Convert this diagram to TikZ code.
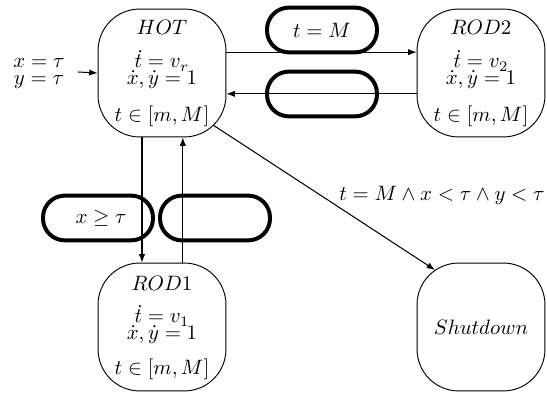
\documentclass[tikz,border=0pt]{standalone}
\usetikzlibrary{arrows.meta}
\begin{document}
\begin{tikzpicture}[x=0.48pt,y=-0.48pt,
 state/.style={draw, line width=0.45pt, rounded corners=20pt, minimum width=61.4pt, minimum height=61.4pt, inner sep=0pt},
 guard/.style={draw, line width=1.9pt, rounded corners=10.5pt, minimum width=52.8pt, minimum height=21.5pt, inner sep=0pt},
 txt/.style={inner sep=0pt},
 row/.style={inner sep=0pt, anchor=base},
 arr/.style={-{Latex[length=4pt,width=3pt]}, line width=0.5pt}]
\useasboundingbox (0,0) rectangle (547,394);
% states
\node[state] (HOT) at (162,73) {};
\node[state] (ROD2) at (481,73) {};
\node[state] (ROD1) at (162,327) {};
\node[state] (SD) at (481,327) {};
% state texts
\node[txt] (hotn) at (162,27) {$HOT$};
\node[row] (hota) at (162,68) {$\dot{t}=v_r$};
\node[row] (hotb) at (162,85) {$\dot{x},\dot{y}=1$};
\node[txt] (hotc) at (162,116) {$t\in[m,M]$};
\node[txt] (r2n) at (481,27) {$ROD2$};
\node[row] (r2a) at (481,68) {$\dot{t}=v_2$};
\node[row] (r2b) at (481,85) {$\dot{x},\dot{y}=1$};
\node[txt] (r2c) at (481,116) {$t\in[m,M]$};
\node[txt] (r1n) at (162,283) {$ROD1$};
\node[row] (r1a) at (162,323) {$\dot{t}=v_1$};
\node[row] (r1b) at (162,340) {$\dot{x},\dot{y}=1$};
\node[txt] (r1c) at (162,369) {$t\in[m,M]$};
\node[txt] (sdn) at (481,327) {$Shutdown$};
% guards
\node[guard] (g1) at (322,30) {$t=M$};
\node[guard] (g2) at (322,94) {};
\node[guard] (g3) at (98,218) {\hspace*{3pt}$x\geq\tau$};
\node[guard] (g4) at (215,218) {};
% initial
\node[txt] (ia) at (39,63) {$x=\tau$};
\node[txt] (ib) at (39,82) {$y=\tau$};
\coordinate (init) at (78,72);
\draw[arr] (init) -- (HOT.west);
% transitions
\draw[arr] ([yshift=10pt]HOT.east) -- ([yshift=10pt]ROD2.west);
\draw[arr] ([yshift=-10pt]ROD2.west) -- ([yshift=-10pt]HOT.east);
\draw[arr] ([xshift=-9.6pt]HOT.south) -- ([xshift=-9.6pt]ROD1.north);
\draw[arr] ([xshift=10pt]ROD1.north) -- ([xshift=10pt]HOT.south);
\draw[arr] ([shift={(51,52)}]HOT.center) -- ([shift={(-46,-57)}]SD.center);
\node[txt] (lbl) at (442,195) {$t=M\wedge x<\tau\wedge y<\tau$};
\end{tikzpicture}
\end{document}
